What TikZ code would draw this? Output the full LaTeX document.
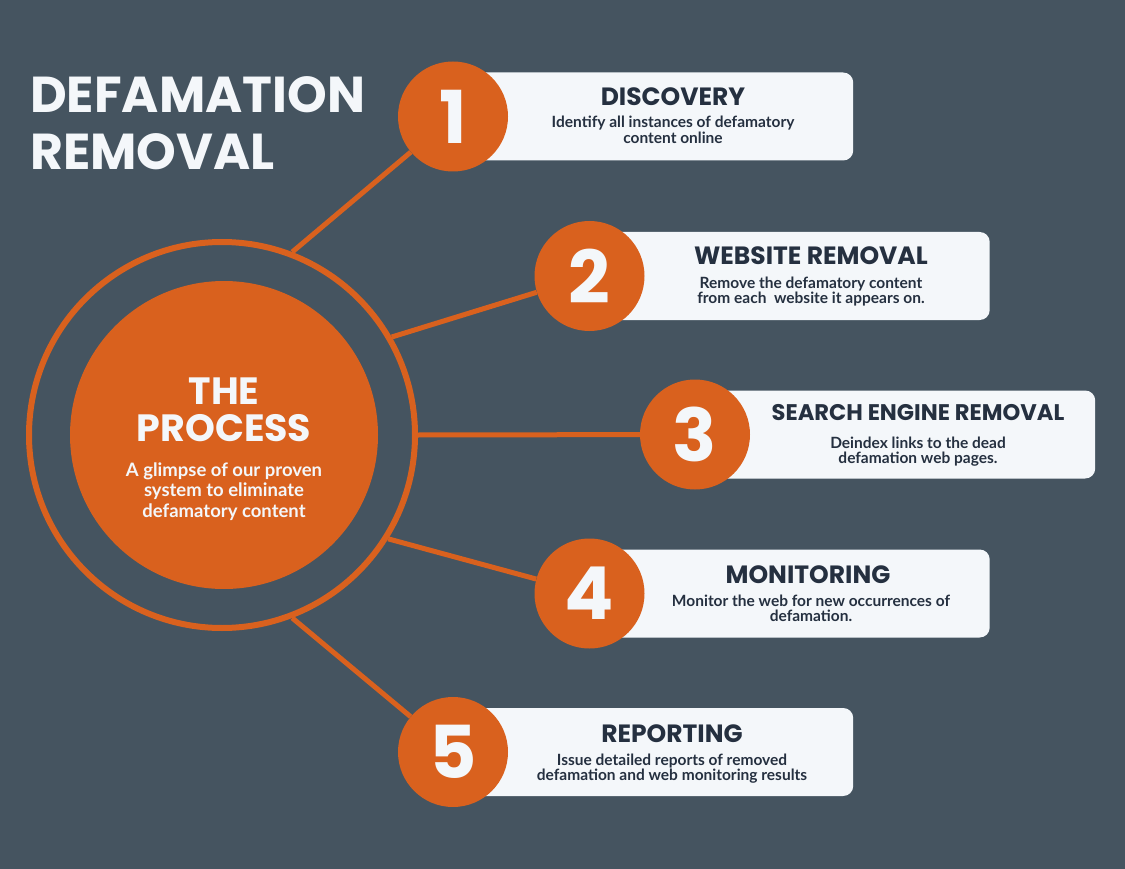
\documentclass[tikz,border=0pt]{standalone}
\usepackage{fontspec}
\setmainfont{Lato}
\newfontfamily\headfont{Poppins}
\definecolor{bg}{RGB}{69,84,96}
\definecolor{org}{RGB}{217,97,30}
\definecolor{boxfill}{RGB}{244,247,250}
\definecolor{navy}{RGB}{37,48,64}
\definecolor{wht}{RGB}{244,247,250}
\begin{document}
\begin{tikzpicture}[x=1pt,y=-1pt,
  numc/.style={circle, fill=org, minimum size=110pt, inner sep=0pt, text=wht, font=\headfont\bfseries\fontsize{73}{73}\selectfont},
  stepbox/.style={rectangle, rounded corners=10pt, fill=boxfill, minimum width=400pt, minimum height=88pt, anchor=west, inner sep=0pt},
  head/.style={anchor=base, text=navy, font=\headfont\bfseries\fontsize{25}{25}\selectfont, inner sep=0pt},
  desc/.style={anchor=base, align=center, text=navy, font=\bfseries\fontsize{15.5}{15.5}\selectfont, inner sep=0pt},
  link/.style={draw=org, line width=5pt},
  title/.style={anchor=base west, text=wht, inner sep=0pt, font=\headfont\bfseries\fontsize{50.5}{50.5}\selectfont},
  ptitle/.style={anchor=base, text=wht, inner sep=0pt, font=\headfont\bfseries\fontsize{38}{38}\selectfont},
]
\fill[bg] (0,0) rectangle (1125,869);
\useasboundingbox (0,0) rectangle (1125,869);

% title
\node[title] (t1) at (30,113) {DEFAMATION};
\node[title] (t2) at (30,170) {REMOVAL};

% central ring and core
\node[circle, draw=org, line width=6pt, minimum size=386pt, inner sep=0pt] (ring) at (222,435) {};
\node[circle, fill=org, minimum size=308pt, inner sep=0pt] (core) at (224,435) {};
\node[ptitle] (p1) at (224,404) {THE};
\node[ptitle] (p2) at (224,441) {PROCESS};
\node[anchor=base, align=center, text=wht, inner sep=0pt, font=\bfseries\fontsize{18.5}{20.5}\selectfont] (p3) at (224,517) {A glimpse of our proven\\system to eliminate\\defamatory content};

% boxes
\node[stepbox] (b1) at (453,116.5) {};
\node[stepbox] (b2) at (589.5,276) {};
\node[stepbox] (b3) at (695,434.5) {};
\node[stepbox] (b4) at (589.5,593.5) {};
\node[stepbox] (b5) at (453,752) {};

% number circles
\node[numc] (n1) at (453,116.5) {1};
\node[numc] (n2) at (589.5,276) {2};
\node[numc] (n3) at (695,434.5) {3};
\node[numc] (n4) at (589.5,593.5) {4};
\node[numc] (n5) at (453,752) {5};

% connectors
\draw[link] (ring.69.3) -- (n1);
\draw[link] (ring.30.9) -- (n2);
\draw[link] (ring.0) -- (n3);
\draw[link] (ring.-32.8) -- (n4);
\draw[link] (ring.-69.8) -- (n5);

% texts
\node[head] (h1) at (673,106) {DISCOVERY};
\node[desc] (d1) at (673,143.5) {Identify all instances of defamatory\\content online};
\node[head] (h2) at (811,265) {WEBSITE REMOVAL};
\node[desc] (d2) at (811,303.5) {Remove the defamatory content\\from each\ \ website it appears on.};
\node[head, font=\headfont\bfseries\fontsize{22.6}{22.6}\selectfont] (h3) at (918,420.5) {SEARCH ENGINE REMOVAL};
\node[desc] (d3) at (918,463.5) {Deindex links to the dead\\defamation web pages.};
\node[head] (h4) at (808,583) {MONITORING};
\node[desc] (d4) at (811,621.5) {Monitor the web for new occurrences of\\defamation.};
\node[head] (h5) at (672,742.5) {REPORTING};
\node[desc] (d5) at (672,780.5) {Issue detailed reports of removed\\defamation and web monitoring results};
\end{tikzpicture}
\end{document}
